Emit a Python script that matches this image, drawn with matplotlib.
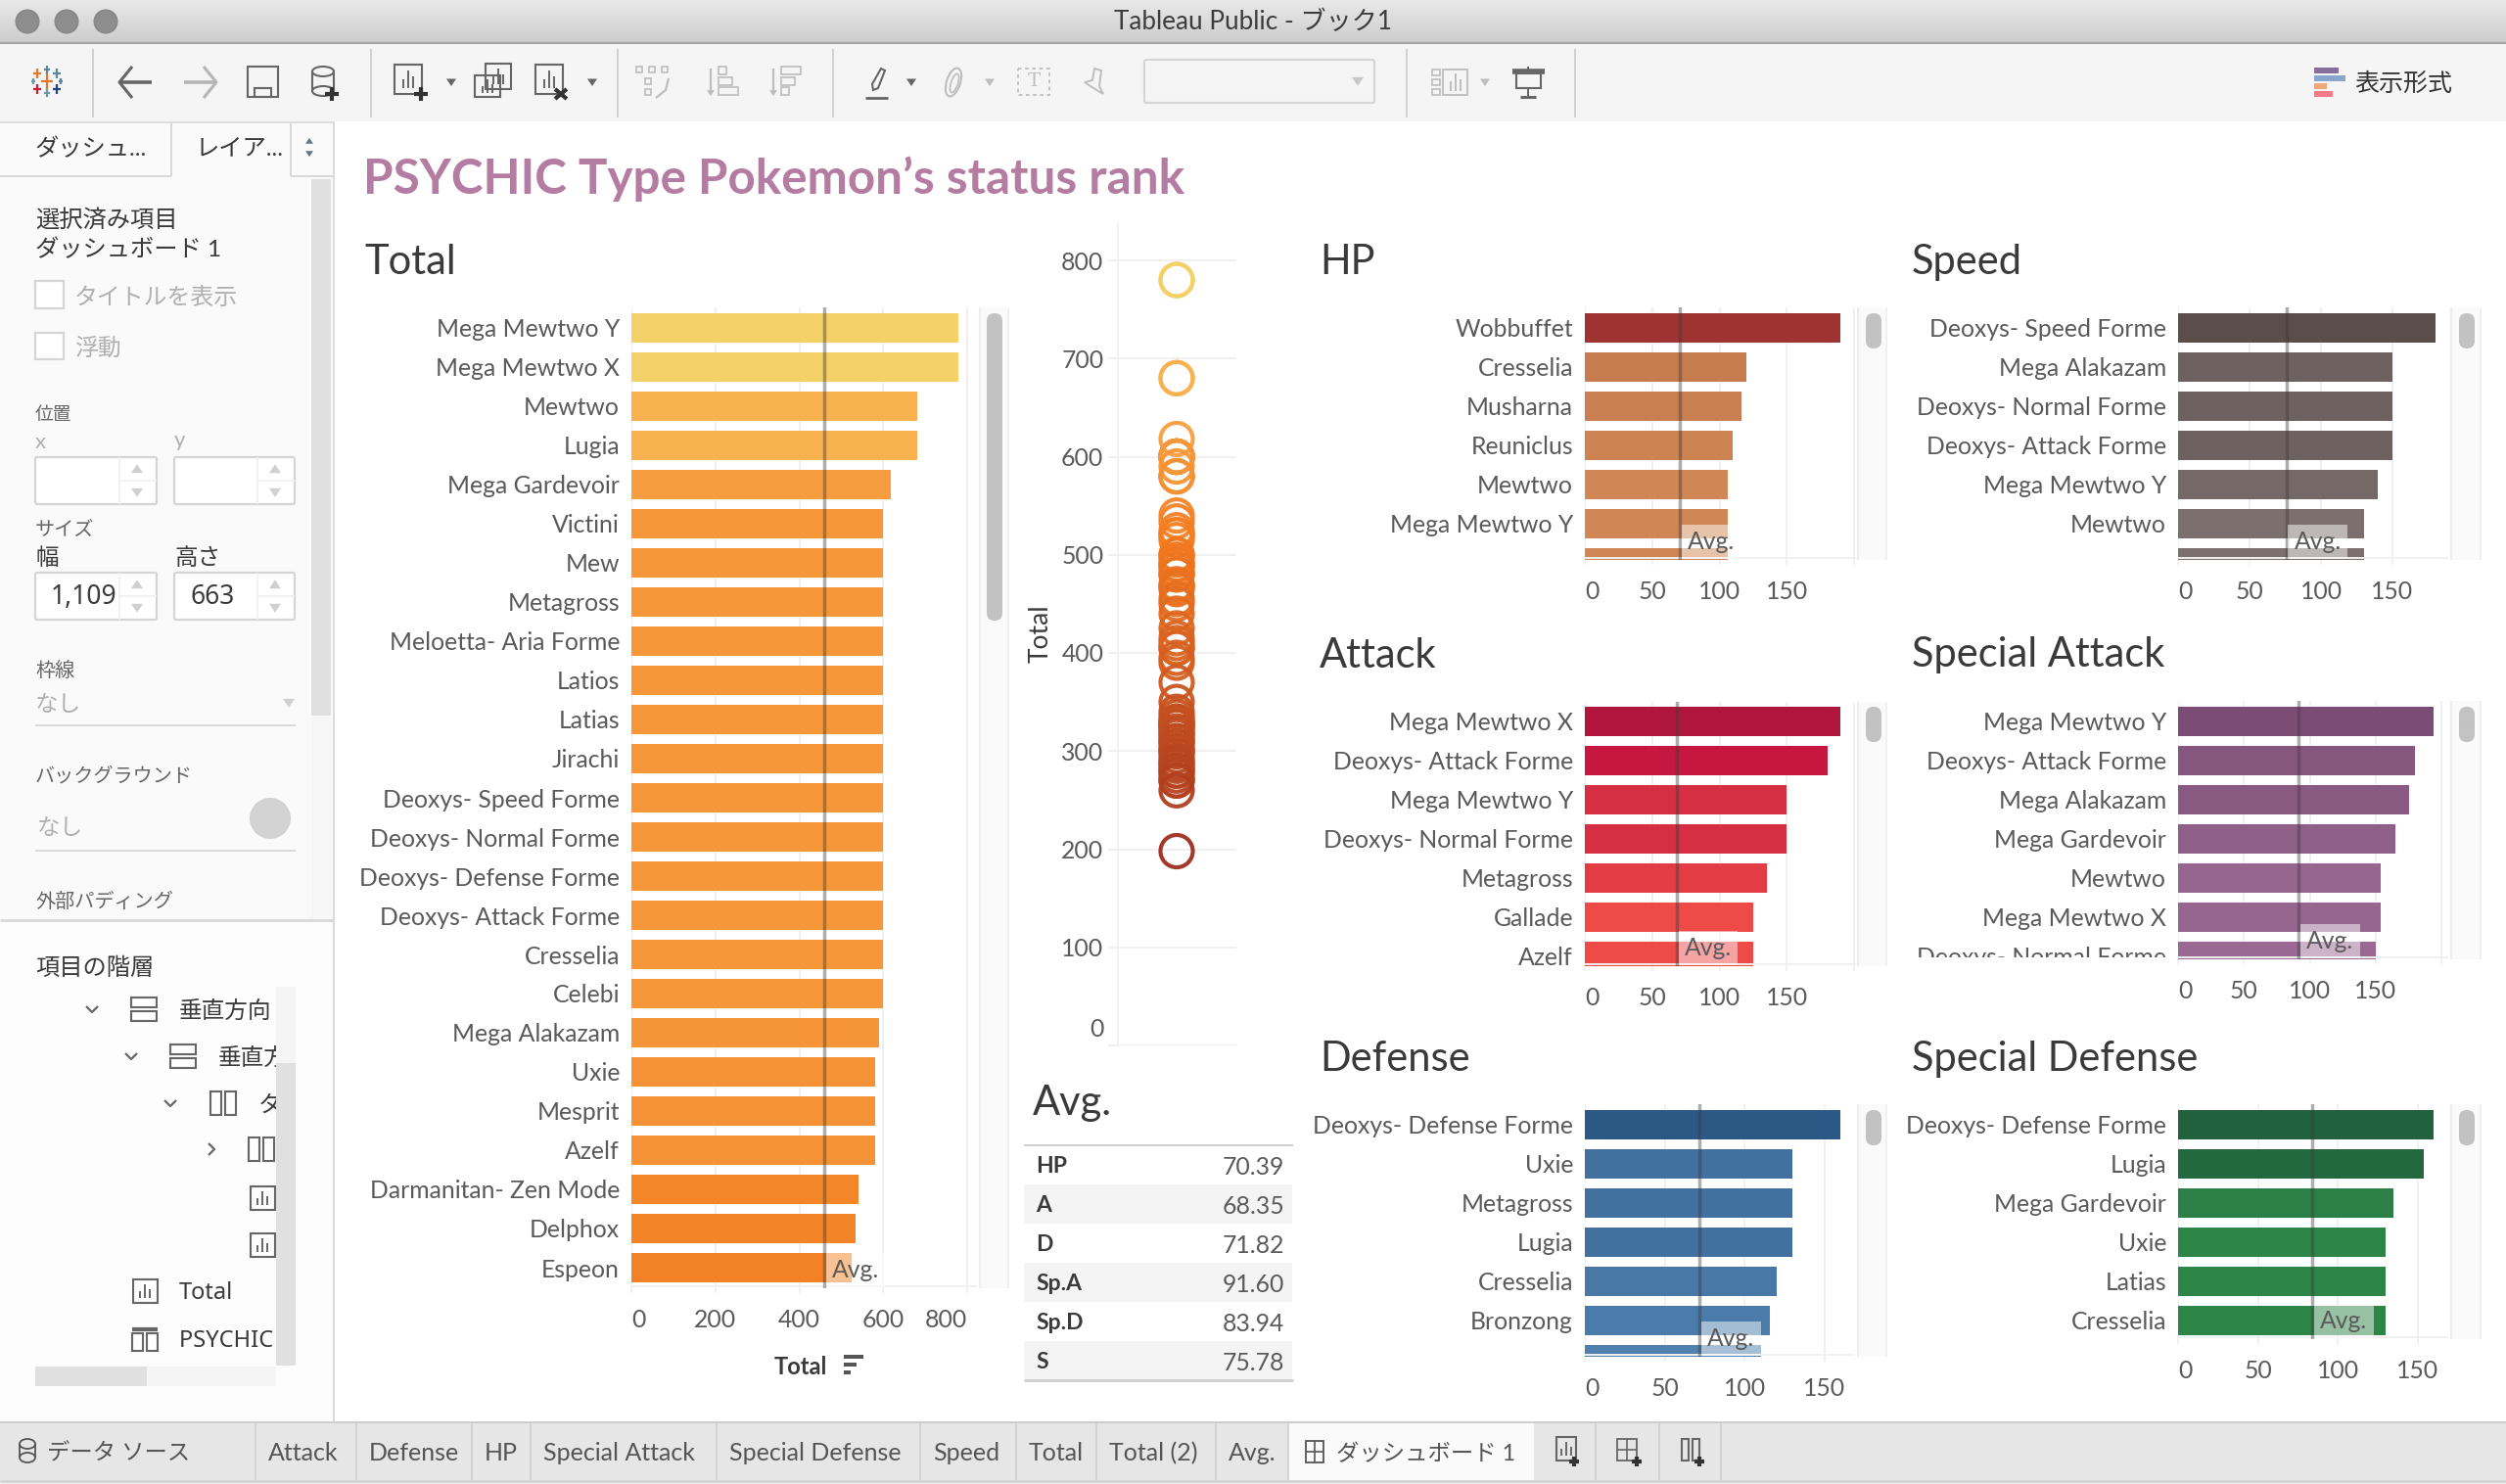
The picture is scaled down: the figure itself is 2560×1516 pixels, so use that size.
import matplotlib
import matplotlib.pyplot as plt
import numpy as np
from matplotlib.colors import LinearSegmentedColormap, Normalize
from matplotlib.patches import Circle, Ellipse, FancyBboxPatch, Polygon, Rectangle
from matplotlib.transforms import Affine2D, Bbox

matplotlib.use("agg")

plt.rcParams["font.family"] = ["Lato", "Noto Sans CJK JP", "DejaVu Sans"]

# chart data
total_names = [
    "Mega Mewtwo Y", "Mega Mewtwo X", "Mewtwo", "Lugia", "Mega Gardevoir", "Victini", "Mew",
    "Metagross", "Meloetta- Aria Forme", "Latios", "Latias", "Jirachi", "Deoxys- Speed Forme",
    "Deoxys- Normal Forme", "Deoxys- Defense Forme", "Deoxys- Attack Forme", "Cresselia",
    "Celebi", "Mega Alakazam", "Uxie", "Mesprit", "Azelf", "Darmanitan- Zen Mode", "Delphox",
    "Espeon",
]
total_values = [780, 780, 680, 680, 618, 600, 600, 600, 600, 600, 600, 600, 600, 600, 600, 600,
                600, 600, 590, 580, 580, 580, 540, 534, 525]
strip_values = [780, 780, 680, 680, 618, 600, 600, 600, 600, 600, 600, 600, 600, 600, 600, 600,
                600, 600, 590, 580, 580, 580, 540, 534, 525, 520, 520, 515, 500, 500, 495, 490,
                490, 485, 480, 480, 470, 468, 465, 455, 450, 440, 425, 415, 410, 405, 405, 395,
                390, 370, 350, 340, 335, 330, 330, 328, 325, 325, 320, 318, 315, 310, 310, 305,
                300, 300, 295, 290, 288, 285, 280, 280, 275, 270, 270, 260, 198]

hp_names = ["Wobbuffet", "Cresselia", "Musharna", "Reuniclus", "Mewtwo", "Mega Mewtwo Y", "Mega Mewtwo X"]
hp_values = [190, 120, 116, 110, 106, 106, 106]
speed_names = ["Deoxys- Speed Forme", "Mega Alakazam", "Deoxys- Normal Forme", "Deoxys- Attack Forme",
               "Mega Mewtwo Y", "Mewtwo", "Mega Mewtwo X"]
speed_values = [180, 150, 150, 150, 140, 130, 130]
attack_names = ["Mega Mewtwo X", "Deoxys- Attack Forme", "Mega Mewtwo Y", "Deoxys- Normal Forme",
                "Metagross", "Gallade", "Azelf"]
attack_values = [190, 180, 150, 150, 135, 125, 125]
spatk_names = ["Mega Mewtwo Y", "Deoxys- Attack Forme", "Mega Alakazam", "Mega Gardevoir", "Mewtwo",
               "Mega Mewtwo X", "Deoxys- Normal Forme"]
spatk_values = [194, 180, 175, 165, 154, 154, 150]
defense_names = ["Deoxys- Defense Forme", "Uxie", "Metagross", "Lugia", "Cresselia", "Bronzong", "Slowbro"]
defense_values = [160, 130, 130, 130, 120, 116, 110]
spdef_names = ["Deoxys- Defense Forme", "Lugia", "Mega Gardevoir", "Uxie", "Latias", "Cresselia"]
spdef_values = [160, 154, 135, 130, 130, 130]

avg_labels = ["HP", "A", "D", "Sp.A", "Sp.D", "S"]
avg_values = [70.39, 68.35, 71.82, 91.60, 83.94, 75.78]
total_avg = 460

total_ticks = [0, 200, 400, 600, 800]
stat_ticks = [0, 50, 100, 150]
strip_ticks = [0, 100, 200, 300, 400, 500, 600, 700, 800]

sheet_tabs = ["Attack", "Defense", "HP", "Special Attack", "Special Defense", "Speed", "Total",
              "Total (2)", "Avg."]

# layout, in screenshot pixels
W, H = 2560, 1516
GRID = "#f0f0f0"
LABEL = "#5a5a5a"
DARK = "#3a3a3a"
ROW = 40

total_stops = [(200, "#9c2f1f"), (300, "#bd4a20"), (500, "#f2791f"), (600, "#f6983a"),
               (680, "#f8b250"), (780, "#f3d068")]

charts = [
    dict(title="Total", names=total_names, values=total_values, avg=total_avg, ticks=total_ticks,
         left=645, right=997, top=314, bottom=1316, row0=335, ppu=0.4288, title_x=372, title_y=266,
         track=(1001, 1030), thumb=(1008, 1024), thumb_h=314, stops=total_stops),
    dict(title="HP", names=hp_names, values=hp_values, avg=avg_values[0], ticks=stat_ticks,
         left=1619, right=1896, top=314, bottom=572, row0=335, ppu=1.375, title_x=1348, title_y=266,
         track=(1898, 1927), thumb=(1906, 1922), thumb_h=36,
         stops=[(106, "#cf8755"), (120, "#c67c4f"), (190, "#9e3431")]),
    dict(title="Speed", names=speed_names, values=speed_values, avg=avg_values[5], ticks=stat_ticks,
         left=2225, right=2500, top=314, bottom=572, row0=335, ppu=1.46, title_x=1953, title_y=266,
         track=(2504, 2534), thumb=(2512, 2528), thumb_h=36,
         stops=[(130, "#7b706d"), (150, "#6e6260"), (180, "#5a4d4a")]),
    dict(title="Attack", names=attack_names, values=attack_values, avg=avg_values[1], ticks=stat_ticks,
         left=1619, right=1896, top=717, bottom=987, row0=737, ppu=1.375, title_x=1348, title_y=668,
         track=(1898, 1927), thumb=(1906, 1922), thumb_h=36, label_clip=994,
         stops=[(125, "#ee4a48"), (135, "#e33c44"), (150, "#d62e42"), (180, "#c5173f"), (190, "#b0163c")]),
    dict(title="Special Attack", names=spatk_names, values=spatk_values, avg=avg_values[3], ticks=stat_ticks,
         left=2225, right=2500, top=716, bottom=980, row0=737, ppu=1.346, title_x=1953, title_y=667,
         track=(2504, 2534), thumb=(2512, 2528), thumb_h=36,
         stops=[(150, "#996893"), (165, "#8e6089"), (180, "#85577f"), (194, "#7b4c75")]),
    dict(title="Defense", names=defense_names, values=defense_values, avg=avg_values[2], ticks=stat_ticks,
         left=1619, right=1893, top=1128, bottom=1386, row0=1149, ppu=1.633, title_x=1348, title_y=1080,
         track=(1898, 1927), thumb=(1906, 1922), thumb_h=36,
         stops=[(110, "#4f80ae"), (130, "#42709f"), (160, "#2c5885")]),
    dict(title="Special Defense", names=spdef_names, values=spdef_values, avg=avg_values[4], ticks=stat_ticks,
         left=2225, right=2500, top=1128, bottom=1368, row0=1149, ppu=1.633, title_x=1953, title_y=1080,
         track=(2504, 2534), thumb=(2512, 2528), thumb_h=36,
         stops=[(130, "#2e8548"), (154, "#23693f"), (160, "#22613d")]),
]

fig = plt.figure(figsize=(W / 100, H / 100), dpi=100, facecolor="white")

# full-figure axes in pixel coordinates for the application window
bg = fig.add_axes([0, 0, 1, 1])
bg.set_xlim(0, W)
bg.set_ylim(H, 0)
bg.axis("off")


def box(x0, y0, x1, y1, fc="none", ec="none", lw=1.4, round_px=0, z=2):
    if round_px:
        patch = FancyBboxPatch((x0, y0), x1 - x0, y1 - y0, boxstyle=f"round,pad=0,rounding_size={round_px}",
                               fc=fc, ec=ec, lw=lw, zorder=z)
    else:
        patch = Rectangle((x0, y0), x1 - x0, y1 - y0, fc=fc, ec=ec, lw=lw, zorder=z)
    bg.add_patch(patch)


def line(xs, ys, c="#666666", lw=1.4, z=3):
    bg.plot(xs, ys, color=c, lw=lw, zorder=z, solid_capstyle="butt")


def tri(x, y, size=6, c="#777777", down=True):
    sign = 1 if down else -1
    bg.add_patch(Polygon([(x - size, y - sign * size * 0.7), (x + size, y - sign * size * 0.7),
                          (x, y + sign * size * 0.8)], fc=c, ec="none", zorder=3))


def label(x, y, s, size=17, c=DARK, ha="left", clip_to=None, **kw):
    t = bg.text(x, y + 2, s, fontsize=size, color=c, ha=ha, va="center", zorder=4, **kw)
    if clip_to is not None:
        t.set_clip_path(Rectangle((0, 0), clip_to, H, transform=bg.transData))
        t.set_clip_on(True)
    return t


def plus(x, y, c="#333333", r=7):
    line([x - r, x + r], [y, y], c, 3, z=5)
    line([x, x], [y - r, y + r], c, 3, z=5)


def chart_icon(x, y, w=28, h=28, c="#666666"):
    box(x - w / 2, y - h / 2, x + w / 2, y + h / 2, fc="none", ec=c, lw=1.5)
    for dx, bh in zip((-5, 0, 5), (0.25, 0.5, 0.33)):
        line([x + dx, x + dx], [y + h * 0.3, y + h * 0.3 - h * bh * 1.2], c, 1.4)


def db_icon(x, y, w=26, h=32, c="#666666", lw=1.5):
    line([x - w / 2, x - w / 2], [y - h / 2 + 5, y + h / 2 - 5], c, lw)
    line([x + w / 2, x + w / 2], [y - h / 2 + 5, y + h / 2 - 5], c, lw)
    bg.add_patch(Ellipse((x, y - h / 2 + 5), w, 10, fc="none", ec=c, lw=lw, zorder=3))
    bg.add_patch(Ellipse((x, y + h / 2 - 5), w, 10, fc="none", ec=c, lw=lw, zorder=3))


def split_icon(x, y, w=26, h=24, c="#666666", vertical=False):
    if vertical:
        box(x - w / 2, y - h / 2, x - 2, y + h / 2, ec=c, lw=1.5)
        box(x + 2, y - h / 2, x + w / 2, y + h / 2, ec=c, lw=1.5)
    else:
        box(x - w / 2, y - h / 2, x + w / 2, y - 2, ec=c, lw=1.5)
        box(x - w / 2, y + 2, x + w / 2, y + h / 2, ec=c, lw=1.5)


def draw_window():
    # title bar
    grad = np.linspace(0.91, 0.80, 44).reshape(-1, 1)
    bg.imshow(grad, extent=(0, W, 44, 0), cmap="gray", vmin=0, vmax=1, aspect="auto", zorder=1)
    bg.set_xlim(0, W)
    bg.set_ylim(H, 0)
    line([0, W], [43.5, 43.5], "#a6a6a6", 1.5)
    for cx in (28, 68, 108):
        bg.add_patch(Circle((cx, 22), 12, fc="#8e8e8e", ec="#808080", lw=0.7, zorder=3))
    label(1280, 21, "Tableau Public - ブック1", size=18.8, c="#3c3c3c", ha="center")

    # toolbar
    box(0, 44, W, 124, fc="#f5f5f5")
    for x in (95, 379, 631, 851, 1437, 1609):
        line([x, x], [50, 120], "#d0d0d0", 1.4)

    # tableau logo
    logo = [(48, 83, 6, "#e8762b"), (48, 71, 3, "#59879b"), (48, 95, 3, "#7099a6"), (38, 75, 4, "#e8762b"),
            (58, 75, 4, "#5b879b"), (38, 91, 4, "#c72035"), (58, 91, 4, "#1f447e"), (34, 83, 2, "#7099a6"),
            (62, 83, 2, "#59879b")]
    for x, y, r, c in logo:
        line([x - r, x + r], [y, y], c, 1.6)
        line([x, x], [y - r * 1.3, y + r * 1.3], c, 1.6)

    # back / forward
    for x, c, d in ((139, "#666666", -1), (204, "#b5b5b5", 1)):
        line([x - 16, x + 16], [84, 84], c, 2.6)
        line([x + d * 4, x + d * 17, x + d * 4], [68, 84, 100], c, 2.2)

    # save, new data source
    box(253, 68, 284, 99, ec="#666666", lw=1.5)
    box(260, 90, 277, 99, ec="#666666", lw=1.5)
    db_icon(330, 83, w=22, h=30)
    plus(339, 96)

    # worksheet buttons
    chart_icon(417, 81, 28, 30)
    plus(430, 96)
    tri(461, 84, 5, "#666666")
    chart_icon(509, 78, 26, 26)
    chart_icon(498, 88, 26, 22)
    chart_icon(561, 81, 28, 30)
    line([567, 579], [91, 101], "#333333", 3)
    line([567, 579], [101, 91], "#333333", 3)
    tri(605, 84, 5, "#666666")

    # greyed out buttons
    grey = "#bdbdbd"
    for dx in (-14, -1, 12):
        box(659 + dx + 5, 68, 665 + dx + 5, 74, ec=grey, lw=1.2)
    for dy in (83, 94):
        box(659, dy - 3, 665, dy + 3, ec=grey, lw=1.2)
    line([683, 680, 670], [80, 92, 100], grey, 1.6)
    for x, side in ((740, 1), (804, -1)):
        line([x - 14, x - 14], [70, 96], grey, 1.6)
        tri(x - 14, 95, 4, grey)
        for dy, w in ((72, 8), (83, 14), (93, 20)) if side > 0 else ((72, 20), (83, 14), (93, 8)):
            box(x - 6, dy - 4, x - 6 + w, dy + 4, ec=grey, lw=1.2)

    # highlight, annotate, text, pin
    bg.add_patch(Polygon([(891, 86), (900, 70), (904, 72), (897, 90), (892, 92)], fc="none", ec="#666666",
                         lw=1.5, zorder=3))
    line([884, 907], [100, 100], "#666666", 2)
    tri(931, 84, 5, "#666666")
    bg.add_patch(Ellipse((974, 84), 14, 30, angle=18, fc="none", ec=grey, lw=1.5, zorder=3))
    bg.add_patch(Ellipse((975, 85), 7, 20, angle=18, fc="none", ec=grey, lw=1.2, zorder=3))
    tri(1011, 84, 5, grey)
    bg.add_patch(Rectangle((1040, 70), 32, 27, fc="none", ec=grey, lw=1.3, ls=(0, (2, 2)), zorder=3))
    label(1056, 81, "T", size=14, c=grey, ha="center", family="DejaVu Serif")
    bg.add_patch(Polygon([(1118, 70), (1125, 72), (1123, 88), (1127, 96), (1117, 90), (1108, 84), (1116, 82)],
                         fc="none", ec=grey, lw=1.4, zorder=3))
    box(1169, 61, 1404, 105, ec="#d5d5d5", lw=1.5, round_px=2)
    tri(1387, 83, 6, "#c8c8c8")

    # show cards, presentation
    for dy in (74, 84, 94):
        box(1463, dy - 3, 1471, dy + 3, ec=grey, lw=1.2)
    box(1474, 71, 1499, 97, ec=grey, lw=1.3)
    for x, h in ((1482, 10), (1487, 18), (1492, 12)):
        line([x, x], [93, 93 - h], grey, 1.4)
    tri(1517, 84, 5, grey)
    line([1545, 1578], [73, 73], "#666666", 4)
    box(1549, 75, 1574, 90, ec="#666666", lw=1.5)
    line([1561, 1561], [90, 99], "#666666", 1.4)
    line([1553, 1569], [99, 99], "#666666", 2.2)
    line([1561, 1561], [68, 72], "#666666", 1.4)

    # show me
    for y, w, c in ((69, 25, "#86709b"), (77, 32, "#86a7cb"), (85, 13, "#f0a878"), (93, 19, "#f47a88")):
        box(2364, y, 2364 + w, y + 6, fc=c)
    label(2405, 83, "表示形式", size=18, c="#333333")


def draw_sidebar():
    box(0, 124, 340, 1452, fc="#fafafa")
    line([340.5, 340.5], [124, 1452], "#dcdcdc", 1.4)

    # tabs
    line([0, 175], [180, 180], "#d8d8d8", 1.4)
    line([175, 175], [124, 180], "#d8d8d8", 1.4)
    line([297, 297], [124, 180], "#d8d8d8", 1.4)
    line([297, 340], [180, 180], "#d8d8d8", 1.4)
    line([0, 340], [124.5, 124.5], "#dedede", 1.4)
    label(36, 150, "ダッシュ...", size=17.5)
    label(200, 150, "レイア...", size=17.5)
    tri(316, 144, 4, "#66778a", down=False)
    tri(316, 157, 4, "#66778a")

    # scroll bar of the properties panel
    box(318, 183, 338, 938, fc="#f6f6f6")
    box(318, 183, 338, 731, fc="#e0e0e0")

    label(36, 222, "選択済み項目", size=17.5)
    label(36, 253, "ダッシュボード 1", size=17.5)
    box(36, 287, 65, 315, fc="white", ec="#d5d5d5", lw=1.6)
    label(76, 302, "タイトルを表示", size=17.2, c="#b0b0b0")
    box(36, 340, 65, 367, fc="white", ec="#d5d5d5", lw=1.6)
    label(76, 354, "浮動", size=17.2, c="#b0b0b0")

    label(36, 422, "位置", size=13.5, c="#666666")
    label(36, 450, "x", size=16, c="#b0b0b0")
    label(178, 448, "y", size=16, c="#b0b0b0")
    label(36, 540, "サイズ", size=14.5, c="#666666")
    label(36, 568, "幅", size=17)
    label(178, 568, "高さ", size=17)
    for y0, y1 in ((467, 515), (585, 633)):
        for x0, x1 in ((36, 160), (178, 301)):
            box(x0, y0, x1, y1, fc="white", ec="#d5d5d5", lw=1.6, round_px=2)
            line([x1 - 38, x1 - 38], [y0, y1], "#f0f0f0", 1.2)
            line([x1 - 38, x1], [(y0 + y1) / 2, (y0 + y1) / 2], "#f0f0f0", 1.2)
            tri(x1 - 20, y0 + 12, 6, "#d0d0d0", down=False)
            tri(x1 - 20, y1 - 12, 6, "#d0d0d0")
    label(119, 608, "1,109", size=19, ha="right", family="Noto Sans")
    label(217, 608, "663", size=19, ha="center", family="Noto Sans")

    label(36, 682, "枠線", size=14.5, c="#666666")
    label(36, 718, "なし", size=17, c="#b0b0b0")
    tri(295, 718, 6, "#d0d0d0")
    line([36, 302], [741, 741], "#d8d8d8", 1.4)
    label(36, 790, "バックグラウンド", size=14.5, c="#666666")
    label(38, 844, "なし", size=17, c="#b0b0b0")
    bg.add_patch(Circle((276, 836), 21, fc="#d2d2d2", ec="none", zorder=3))
    line([36, 302], [869, 869], "#d8d8d8", 1.4)
    label(36, 918, "外部パディング", size=14.5, c="#666666")

    # item hierarchy
    line([0, 340], [940, 940], "#d8d8d8", 2)
    box(0, 941, 339, 1452, fc="#fdfdfd")
    label(36, 987, "項目の階層", size=17.5)
    rows = [1031, 1079, 1127, 1174, 1224, 1272, 1319, 1368]
    for x, y in zip((94, 134, 174), rows[:3]):
        line([x - 6, x, x + 6], [y - 3, y + 3, y - 3], "#666666", 1.6)
    line([213, 219, 213], [rows[3] - 6, rows[3], rows[3] + 6], "#666666", 1.6)
    split_icon(147, rows[0])
    split_icon(187, rows[1])
    split_icon(228, rows[2], vertical=True)
    split_icon(267, rows[3], vertical=True)
    chart_icon(268, rows[4], 25, 24)
    chart_icon(268, rows[5], 25, 24)
    chart_icon(148, rows[6], 25, 24)
    split_icon(148, rows[7] + 3, h=18, vertical=True)
    line([135, 161], [rows[7] - 10, rows[7] - 10], "#666666", 3)
    label(183, rows[0], "垂直方向", size=17, clip_to=282)
    label(223, rows[1], "垂直方向", size=17, clip_to=282)
    label(264, rows[2], "タイル", size=17, clip_to=282)
    label(183, rows[6], "Total", size=17, clip_to=282, family="Noto Sans")
    label(183, rows[7], "PSYCHIC Type", size=17, clip_to=282, family="Noto Sans")
    box(282, 1008, 302, 1395, fc="#f5f5f5", z=5)
    box(282, 1086, 302, 1395, fc="#e0e0e0", z=5)
    box(36, 1396, 282, 1416, fc="#f5f5f5", z=5)
    box(36, 1396, 150, 1416, fc="#e0e0e0", z=5)


def draw_tabs():
    box(0, 1452, W, 1516, fc="#f2f2f2")
    box(0, 1454, W, 1512, fc="#e6e6e6")
    line([0, W], [1452.5, 1452.5], "#cccccc", 1.4)
    line([0, W], [1513, 1513], "#d4d4d4", 2)
    db_icon(28, 1482, w=16, h=24, c="#555555", lw=1.3)
    label(48, 1483, "データ ソース", size=16.8, c="#555555")
    seps = [261, 364, 482, 542, 732, 940, 1038, 1120, 1242, 1316]
    for x in seps:
        line([x, x], [1454, 1512], "#cfcfcf", 1.2)
    for name, x0 in zip(sheet_tabs, seps):
        label(x0 + 13, 1483, name, size=18, c="#555555")
    box(1316, 1454, 1567, 1512, fc="#fafafa")
    box(1334, 1472, 1352, 1494, ec="#555555", lw=1.3, z=3)
    line([1343, 1343], [1472, 1494], "#555555", 1.2)
    line([1334, 1352], [1483, 1483], "#555555", 1.2)
    label(1365, 1483, "ダッシュボード 1", size=16.8, c="#555555")
    for x in (1630, 1695, 1758):
        line([x, x], [1454, 1512], "#cfcfcf", 1.2)
    chart_icon(1600, 1480, 20, 24, "#666666")
    plus(1608, 1493, r=5)
    box(1652, 1470, 1672, 1492, ec="#666666", lw=1.3, z=3)
    line([1662, 1662], [1470, 1492], "#666666", 1.2)
    line([1652, 1672], [1481, 1481], "#666666", 1.2)
    plus(1672, 1493, r=5)
    split_icon(1727, 1481, w=18, h=22, vertical=True)
    plus(1736, 1493, r=5)


def stops_to_cmap(stops):
    lo, hi = stops[0][0], stops[-1][0]
    pairs = [((v - lo) / (hi - lo), c) for v, c in stops]
    return LinearSegmentedColormap.from_list("stat", pairs), Normalize(lo, hi)


def draw_bar_chart(c):
    bar_left, right, top, bottom = c["left"], c["right"], c["top"], c["bottom"]
    ax = fig.add_axes([bar_left / W, 1 - bottom / H, (right - bar_left) / W, (bottom - top) / H])
    ax.patch.set_visible(False)
    cmap, norm = stops_to_cmap(c["stops"])
    rows = np.arange(len(c["names"]))
    ax.barh(rows, c["values"], height=30 / ROW, color=cmap(norm(c["values"])), zorder=2)
    xmax = (right - bar_left) / c["ppu"]

    grid_ticks = list(c["ticks"])
    if c["ticks"] is stat_ticks and xmax > 200:
        grid_ticks.append(200)
    ax.set_xticks(grid_ticks)
    ax.set_xticklabels([str(t) if t in c["ticks"] else "" for t in grid_ticks])
    ax.grid(axis="x", color=GRID, lw=1.4, zorder=0)
    ax.set_axisbelow(True)
    ax.tick_params(axis="x", length=5, width=1.4, color=GRID, labelsize=17.8, labelcolor=LABEL, pad=11.5)
    ax.set_yticks(rows)
    ax.set_yticklabels(c["names"])
    ax.tick_params(axis="y", length=0, labelsize=17.8, labelcolor=LABEL, pad=8.6)
    # setting ticks widens the view, so the limits come last
    ax.set_xlim(0, xmax)
    ax.set_ylim((bottom - c["row0"]) / ROW, (top - c["row0"]) / ROW)
    for spine in ("top", "right", "left"):
        ax.spines[spine].set_visible(False)
    ax.spines["bottom"].set_position(("axes", 2 / (bottom - top)))
    ax.spines["bottom"].set_color(GRID)
    ax.spines["bottom"].set_linewidth(1.4)
    ax.spines["bottom"].set_zorder(3)

    # names of rows cut off by the pane
    clip = Bbox([[0, H - c.get("label_clip", bottom - 2)], [W, H]])
    for tick_label in ax.get_yticklabels():
        tick_label.set_clip_box(clip)
        tick_label.set_clip_on(True)
    labels = ax.get_xticklabels()
    labels[0].set_ha("left")
    if c["ticks"] is total_ticks:
        labels[-1].set_ha("right")

    ax.axvline(c["avg"], color="#3c3c3c", alpha=0.42, lw=2.5, zorder=4)
    ax.annotate("Avg.", xy=(c["avg"], 0), xycoords=ax.get_xaxis_transform(), xytext=(8, 7),
                textcoords="offset pixels", ha="left", va="bottom", fontsize=17.8, color=LABEL, zorder=5,
                annotation_clip=False,
                bbox=dict(boxstyle="square,pad=0.25", fc="white", ec="none", alpha=0.5))

    # section title and the pane's scroll bar
    label(c["title_x"], c["title_y"], c["title"], size=30, c=DARK)
    box(c["track"][0], top, c["track"][1], bottom, fc="#fafafa")
    line([c["track"][0], c["track"][0]], [top, bottom], "#eeeeee", 1.6)
    line([c["track"][1], c["track"][1]], [top, bottom], "#eeeeee", 1.2)
    box(c["thumb"][0], c["row0"] - 15, c["thumb"][1], c["row0"] - 15 + c["thumb_h"], fc="#c2c2c2", round_px=8, z=3)
    return ax


def draw_strip():
    left, right, top, bottom = 1142, 1263, 228, 1068
    ax = fig.add_axes([left / W, 1 - bottom / H, (right - left) / W, (bottom - top) / H])
    ax.patch.set_visible(False)
    cmap, norm = stops_to_cmap(total_stops)
    ax.scatter([0] * len(strip_values), strip_values, s=566, facecolors="none",
               edgecolors=cmap(norm(strip_values)), linewidths=3.0, alpha=0.95, zorder=3, clip_on=False)
    ax.set_xticks([])
    ax.set_yticks(strip_ticks)
    ax.set_xlim(-60 / (right - left), 61 / (right - left))
    ax.set_ylim(0, (bottom - top) / 1.0025)
    ax.grid(axis="y", color=GRID, lw=1.4, zorder=0)
    ax.set_axisbelow(True)
    ax.tick_params(axis="y", length=7, width=1.4, color=GRID, labelsize=17.8, labelcolor=LABEL, pad=3.6)
    zero_label = ax.get_yticklabels()[0]
    zero_label.set_va("bottom")
    zero_label.set_transform(zero_label.get_transform() + Affine2D().translate(0, 5))
    for spine in ("top", "right", "bottom"):
        ax.spines[spine].set_visible(False)
    ax.spines["left"].set_color(GRID)
    ax.spines["left"].set_linewidth(1.2)
    label(1063, 645, "Total", size=19, c=DARK, ha="center", rotation=90)


def draw_avg_table():
    label(1055, 1125, "Avg.", size=30, c=DARK)
    line([1046, 1321], [1170, 1170], "#cfcfcf", 1.4)
    for i, (name, value) in enumerate(zip(avg_labels, avg_values)):
        y0 = 1170 + i * ROW
        if i % 2 == 1:
            box(1046, y0, 1320, y0 + ROW, fc="#f4f4f4")
        label(1058, y0 + 20, name, size=16.5, c=DARK, fontweight="bold")
        label(1312, y0 + 20, f"{value:.2f}", size=17.8, c=LABEL, ha="right")
    line([1046, 1321], [1410, 1410], "#cfcfcf", 2)


draw_window()
draw_sidebar()
draw_tabs()
label(371, 181, "PSYCHIC Type Pokemon’s status rank", size=35.6, c="#b47ca1", fontweight="bold")

for chart in charts:
    draw_bar_chart(chart)
draw_strip()
draw_avg_table()

# x axis title of the Total bars with its sort mark
label(791, 1394, "Total", size=17, c=DARK, fontweight="bold")
for y, w in ((1384, 20), (1392, 13), (1400, 7)):
    box(862, y, 862 + w, y + 4, fc="#555555")

fig.savefig("out.png", dpi=100)
plt.close(fig)
